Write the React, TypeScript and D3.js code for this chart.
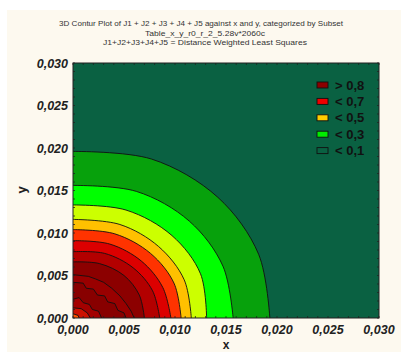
import React from "react";
import * as d3 from "d3";

// ---- data ----
const titleLines = [
  "3D Contur Plot of J1 + J2 + J3 + J4 + J5 against x and y, categorized by Subset",
  "Table_x_y_r0_r_2_5.28v*2060c",
  "J1+J2+J3+J4+J5 = Distance Weighted Least Squares",
];
const tickValues = [0, 0.005, 0.01, 0.015, 0.02, 0.025, 0.03];

// contour level boundaries (x, y) from the y axis to the x axis
const levelNames = ["0.1", "0.2", "0.3", "0.4", "0.5", "0.6", "0.7", "0.8"];
const levelPoints: [number, number][][] = [
  [[0, 0.0196], [0.0077, 0.0187], [0.0142, 0.0142], [0.0182, 0.0075], [0.0193, 0]],
  [[0, 0.0156], [0.0062, 0.0149], [0.0114, 0.0114], [0.0147, 0.0061], [0.0157, 0]],
  [[0, 0.0133], [0.0052, 0.0127], [0.0097, 0.0097], [0.0125, 0.0052], [0.0131, 0]],
  [[0, 0.0116], [0.0046, 0.011], [0.0084, 0.0084], [0.0109, 0.0045], [0.0116, 0]],
  [[0, 0.0104], [0.0041, 0.0099], [0.0076, 0.0076], [0.0099, 0.0041], [0.0106, 0]],
  [[0, 0.0091], [0.0036, 0.0087], [0.0067, 0.0067], [0.0088, 0.0036], [0.0096, 0]],
  [[0, 0.0078], [0.0031, 0.0076], [0.0059, 0.0059], [0.0078, 0.0032], [0.0085, 0]],
  [[0, 0.0066], [0.0026, 0.0064], [0.005, 0.005], [0.0065, 0.0027], [0.007, 0]],
];
const levelColors = ["#07a10c", "#00ff00", "#ccff00", "#ffc000", "#ff3300", "#dc0000", "#b30000", "#8c0000"];

// inner (> 0.8) wiggly contours near the origin
const innerPoints: [number, number][][] = [
  [[0, 0.0051], [0.0015, 0.0049], [0.0022, 0.0046], [0.003, 0.0042], [0.0038, 0.0035], [0.0046, 0.0026], [0.0052, 0.0017], [0.0057, 0.0008], [0.006, 0]],
  [[0, 0.0042], [0.001, 0.0041], [0.0013, 0.0035], [0.002, 0.0034], [0.0024, 0.0027], [0.0031, 0.0026], [0.0034, 0.0019], [0.0041, 0.0017], [0.0044, 0.0009], [0.005, 0.0006], [0.0052, 0]],
  [[0, 0.0022], [0.0006, 0.0024], [0.001, 0.0018], [0.0016, 0.0016], [0.0019, 0.001], [0.0025, 0.0008], [0.0028, 0]],
  [[0, 0.0012], [0.0008, 0.0011], [0.0014, 0.0006], [0.0017, 0]],
  [[0, 0.0005], [0.0005, 0.0003], [0.0006, 0]],
];
const innerColors = ["#990000", "#880000", "#a30000", "#cc1100", "#ff5500"];

const legendLabels = ["> 0,8", "< 0,7", "< 0,5", "< 0,3", "< 0,1"];
const legendColors = ["#8b0000", "#ee0000", "#ffcc00", "#00ee00", "#0a6142"];

const bgGreen = "#0a6142";

export default function App() {
  const W = 401, H = 352;
  const L = 73, R = 379, T = 63, B = 318;
  const sx = d3.scaleLinear().domain([0, 0.03]).range([L, R]);
  const sy = d3.scaleLinear().domain([0, 0.03]).range([B, T]);
  const fmt = (v: number) => d3.format(".3f")(v).replace(".", ",");

  const smooth = d3.line<[number, number]>().x((d) => sx(d[0])).y((d) => sy(d[1])).curve(d3.curveCatmullRom.alpha(0.5));
  const straight = d3.line<[number, number]>().x((d) => sx(d[0])).y((d) => sy(d[1]));

  const fillPath = (d: string) => `M${sx(0)},${sy(0)}L${d.slice(1)}Z`;

  const minor = d3.range(0, 0.0305, 0.001);
  const font = "'Liberation Sans', Arial, sans-serif";

  return (
    <svg width={W} height={H} style={{ position: "fixed", left: 0, top: 0, display: "block" }}>
      <rect x={0} y={0} width={W} height={H} fill="#ffffff" />
      <rect x={7} y={10} width={W - 7} height={H - 10} fill="#fdf9ef" />
      {titleLines.map((t, i) => (
        <text key={i} x={[201, 205, 205][i]} y={[25.5, 35.5, 45][i]} textAnchor="middle" fontFamily={font} fontSize={8} fill="#333"
          textLength={[284, 120, 204][i]} lengthAdjust="spacingAndGlyphs">{t}</text>
      ))}
      <defs>
        <clipPath id="plotclip"><rect x={L} y={T} width={R - L} height={B - T} /></clipPath>
      </defs>
      <g clipPath="url(#plotclip)">
        <rect x={L} y={T} width={R - L} height={B - T} fill={bgGreen} />
        {levelPoints.map((pts, i) => (
          <path key={"f" + i} d={fillPath(smooth(pts) as string)} fill={levelColors[i]} />
        ))}
        {innerPoints.map((pts, i) => (
          <path key={"fi" + i} d={fillPath(straight(pts) as string)} fill={innerColors[i]} />
        ))}
        {levelPoints.map((pts, i) => (
          <path key={"s" + i} d={smooth(pts) as string} fill="none" stroke="#111" strokeWidth={0.9} data-level={levelNames[i]} />
        ))}
        {innerPoints.map((pts, i) => (
          <path key={"si" + i} d={straight(pts) as string} fill="none" stroke="#111" strokeWidth={0.9} />
        ))}
      </g>
      {/* minor ticks */}
      {minor.map((v, i) => (
        <g key={"m" + i} stroke="#222" strokeWidth={0.8}>
          <line x1={sx(v)} x2={sx(v)} y1={T} y2={T + 2} />
          <line x1={sx(v)} x2={sx(v)} y1={B} y2={B - 2} />
          <line x1={L} x2={L + 2} y1={sy(v)} y2={sy(v)} />
          <line x1={R} x2={R - 2} y1={sy(v)} y2={sy(v)} />
        </g>
      ))}
      <rect x={L} y={T} width={R - L} height={B - T} fill="none" stroke="#222" strokeWidth={1} />
      {/* axes labels */}
      {tickValues.map((v, i) => (
        <text key={"yt" + i} x={68} y={sy(v)} dy="0.36em" textAnchor="end" fontFamily={font} fontSize={12.5} fontWeight="bold" fontStyle="italic" fill="#222">{fmt(v)}</text>
      ))}
      {tickValues.map((v, i) => (
        <text key={"xt" + i} x={sx(v)} y={334} textAnchor="middle" fontFamily={font} fontSize={12.5} fontWeight="bold" fontStyle="italic" fill="#222">{fmt(v)}</text>
      ))}
      <text transform="translate(26,190) rotate(-90)" textAnchor="middle" fontFamily={font} fontSize={13} fontWeight="bold" fill="#222">y</text>
      <text x={226} y={349} textAnchor="middle" fontFamily={font} fontSize={12} fontWeight="bold" fill="#222">x</text>
      {/* legend */}
      {legendLabels.map((t, i) => (
        <g key={"lg" + i}>
          <rect x={317} y={82 + i * 16.4} width={11} height={6} fill={legendColors[i]} stroke="#111" strokeWidth={0.9} />
          <text x={335} y={89.5 + i * 16.4} fontFamily={font} fontSize={13} fontWeight="bold" fill="#111">{t}</text>
        </g>
      ))}
    </svg>
  );
}
